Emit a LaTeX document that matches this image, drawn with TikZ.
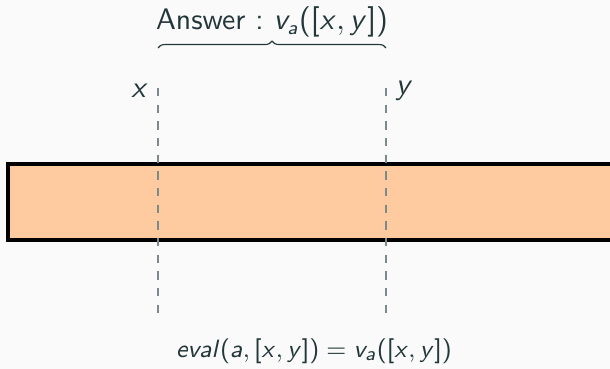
\documentclass[tikz,border=0pt]{standalone}
\usepackage{amsmath}
\usepackage{xcolor}
\usepackage{tikz}
\usetikzlibrary{decorations.pathreplacing}
\definecolor{slidebg}{RGB}{250, 250, 250}
\definecolor{slidetext}{RGB}{35, 55, 59}
\definecolor{peach}{RGB}{254, 203, 161}
\definecolor{cutgray}{RGB}{125, 138, 140}
% sans serif math, slanted letters
\DeclareMathAlphabet{\mathsfsl}{OT1}{cmss}{m}{sl}
\SetSymbolFont{operators}{normal}{OT1}{cmss}{m}{n}
\newcommand{\mv}[1]{\mathsfsl{#1}}

\begin{document}
\begin{tikzpicture}[x=0.36pt, y=-0.36pt,
  every node/.style={text=slidetext, font=\sffamily\fontsize{10.7}{13}\selectfont},
  cutline/.style={cutgray, dashed, line width=0.4pt},
  interval/.style={line width=1.1pt, draw=black, fill=peach}]
% page with background
\fill[slidebg] (0,0) rectangle (610,369);
\useasboundingbox (0,0) rectangle (610,369);
\clip (0,0) rectangle (610,369);
% the array
\draw[interval] (8,164) rectangle (630,240);
% ends of the query range
\coordinate (xtop) at (158,88);
\coordinate (xbot) at (158,315);
\coordinate (ytop) at (386,88);
\coordinate (ybot) at (386,315);
\draw[cutline] (xtop) -- (xbot);
\draw[cutline] (ytop) -- (ybot);
\node[anchor=east] (xlabel) at ([yshift=-1]xtop) {$\mv{x}$};
\node[anchor=west] (ylabel) at ([yshift=-1]ytop) {$\mv{y}$};
% brace with the answer
\coordinate (bleft) at (158,48);
\coordinate (bright) at (386,48);
\draw[slidetext, line width=0.4pt, decorate, decoration={brace, amplitude=2.5pt}]
  (bleft) -- (bright);
\node (answer) at (272,22) {Answer :\ $\mv{v}_{\mv{a}}([\mv{x},\mv{y}])$};
% evaluation
\node[font=\sffamily\fontsize{9.5}{11}\selectfont] (evalq) at (314,351)
  {$\mv{eval}(\mv{a},[\mv{x},\mv{y}]) = \mv{v}_{\mv{a}}([\mv{x},\mv{y}])$};
\end{tikzpicture}
\end{document}
